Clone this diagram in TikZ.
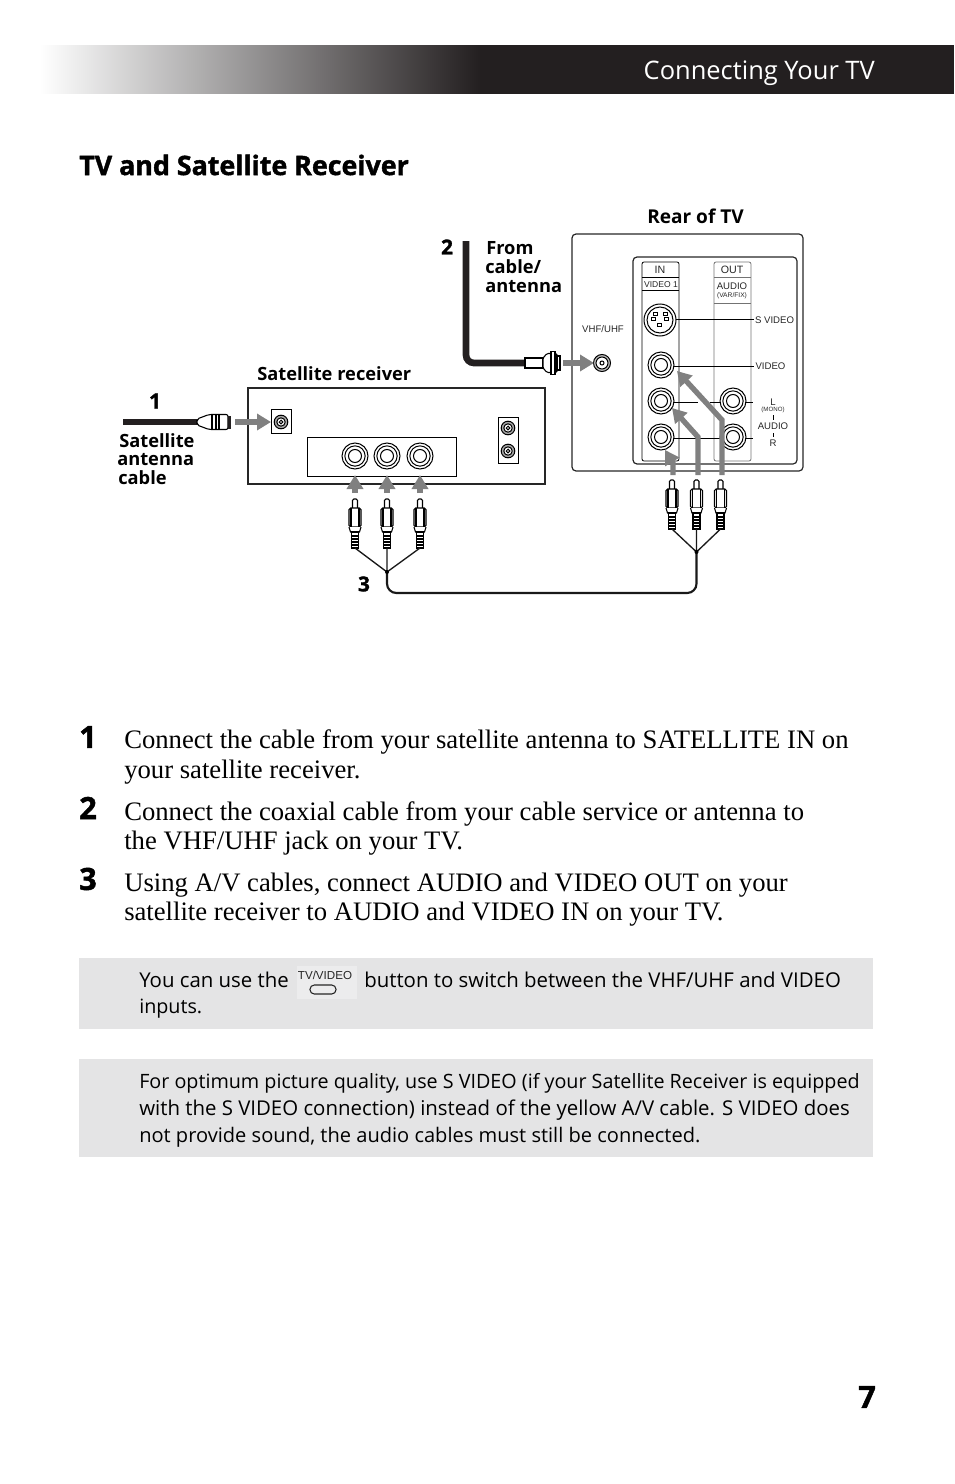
\documentclass[tikz,border=0pt]{standalone}
\usepackage{fontspec}
\setmainfont{Liberation Serif}
\newfontfamily\opensans{Open Sans}
\newfontfamily\heavy[BoldFeatures={FakeBold=1.5}]{Open Sans}
\newfontfamily\arial{Liberation Sans}
\usetikzlibrary{arrows.meta}
\definecolor{hdr}{HTML}{231F20}
\definecolor{arrowgray}{HTML}{808080}
\definecolor{notebg}{HTML}{E4E4E5}
\newcommand\fsz[1]{\fontsize{#1}{#1}\selectfont}
\newcommand\rcajack[4]{%
  \coordinate (#1) at (#2,#3);
  \draw[jackline,fill=white] (#1) circle[radius=#4];
  \draw[jackline] (#1) circle[radius=0.78*#4];
  \draw[jackline] (#1) circle[radius=0.5*#4];
}
\newcommand\rcaplug[2]{%
  \begin{scope}[shift={(#1,#2)}]
    \draw[plugline,fill=white,rounded corners=1pt] (-2.5,10) -- (-2.5,1) -- (2.5,1) -- (2.5,10);
    \draw[plugline,fill=white,rounded corners=1.2pt] (-6,10) rectangle (6,29);
    \draw[plugline,fill=white] (-4,10) -- (-4,29) (4,10) -- (4,29);
    \draw[plugline,fill=white] (-6,29) -- (-4.5,34) -- (4.5,34) -- (6,29);
    \draw[plugline,fill=white] (-3.5,34) rectangle (3.5,50);
    \foreach \yy in {38,41,44,47} \draw[plugline] (-3.5,\yy) -- (3.5,\yy);
  \end{scope}
}
\tikzset{
  jackline/.style={line width=0.75pt,black},
  plugline/.style={line width=0.8pt,black},
  boxline/.style={line width=0.9pt,black!85},
  thinline/.style={line width=0.6pt,black},
  grayarrow/.style={line width=4pt,arrowgray,-{Triangle[length=10.5pt,width=12pt]}},
  coax/.style={line width=5pt,hdr},
  avcable/.style={line width=1.6pt,black!90,rounded corners=7pt},
  wire/.style={line width=1pt,black!90},
  label/.style={inner sep=0pt,anchor=west,font=\opensans\bfseries\fsz{13.7}},
  numlabel/.style={inner sep=0pt,font=\heavy\bfseries\fsz{15.5}},
  tiny/.style={inner sep=0pt,font=\arial\fsz{7.2},text=black!85},
  stepnum/.style={inner sep=0pt,font=\heavy\bfseries\fsz{23}},
  steptext/.style={inner sep=0pt,anchor=west,font=\fsz{20}},
  notetext/.style={inner sep=0pt,anchor=west,font=\opensans\fsz{#1}},
  notetext/.default=15.3,
}
\begin{document}
\begin{tikzpicture}[x=0.75pt,y=-0.75pt]
\useasboundingbox (0,0) rectangle (954,1484);
% header
\fill[left color=white,right color=hdr] (40,45) rectangle (480,94);
\fill[white] (30,40) rectangle (490,45);
\fill[hdr] (480,45) rectangle (954,94);
\node[inner sep=0pt,anchor=east,text=white,font=\opensans\fsz{19.1}] (hdrtitle) at (875,73) {Connecting Your TV};
\node[inner sep=0pt,anchor=west,font=\heavy\bfseries\fsz{20.1}] (title) at (79,165) {TV and Satellite Receiver};
% TV
\draw[boxline,rounded corners=3pt] (572,234) rectangle (803,471);
\draw[boxline,rounded corners=3pt] (633,257) rectangle (797,464);
\draw[thinline,rounded corners=1.5pt] (642,277) -- (642,262) -- (679,262) -- (679,461) -- (642,461) -- cycle;
\draw[thinline,black!55,rounded corners=1.5pt] (714,277) -- (714,262) -- (751,262) -- (751,461) -- (714,461) -- cycle;
\draw[thinline] (642,277) -- (679,277) (642,290) -- (679,290);
\draw[thinline,black!55] (714,277) -- (751,277) (714,303) -- (751,303);
\node[tiny,font=\arial\fsz{8}] (inlab) at (660,270) {IN};
\node[tiny,font=\arial\fsz{8}] (outlab) at (732,270) {OUT};
\node[tiny,font=\arial\fsz{6.4}] (v1lab) at (661,284.5) {VIDEO 1};
\node[tiny,font=\arial\fsz{7.2}] (audiolab) at (732,286) {AUDIO};
\node[tiny,font=\arial\fsz{5}] (varlab) at (732,296) {(VAR/FIX)};
\node[tiny] (vhflab) at (603,329) {VHF/UHF};
\node[tiny] (svlab) at (774.5,320) {S VIDEO};
\node[tiny] (vlab) at (770.5,366) {VIDEO};
\node[tiny] (llab) at (773,402) {L};
\node[tiny,font=\arial\fsz{4.6}] (monolab) at (773,410) {(MONO)};
\node[tiny] (aulab) at (773,426) {AUDIO};
\node[tiny] (rlab) at (773,443) {R};
\draw[thinline] (773,415) -- (773,420) (773,433) -- (773,437);
% guide lines
\draw[thinline] (676,319.5) -- (754,319.5);
\draw[thinline] (674,366) -- (754,366);
\draw[thinline] (674,402) -- (698,402) (710,402) -- (720,402) (746,402) -- (753,402);
\draw[thinline] (674,438) -- (720,438) (746,438) -- (753,438);
% S-Video jack
\coordinate (svjack) at (660,320);
\draw[jackline,fill=white] (svjack) circle[radius=16];
\draw[jackline] (svjack) circle[radius=13];
\foreach \dx/\dy in {-5/-6,5/-6,-7/-1,6/-1,-1/5}
  \draw[line width=0.6pt] (660+\dx-2,320+\dy-1.5) rectangle ++(4,3);
\rcajack{vjack}{661}{365}{13}
\rcajack{ljack}{661}{401}{13}
\rcajack{rjack}{661}{437}{13}
\rcajack{oljack}{733}{401}{13}
\rcajack{orjack}{733}{437}{13}
% VHF jack
\coordinate (vhfjack) at (602,363);
\draw[jackline,fill=black!25] (vhfjack) circle[radius=8.5];
\draw[jackline,fill=white] (vhfjack) circle[radius=6];
\draw[jackline,fill=white] (vhfjack) circle[radius=2];
% Receiver
\draw[boxline] (248,388) rectangle (545,484);
\draw[thinline] (307,437) rectangle (456,476);
\draw[thinline] (271,409) rectangle (291,433);
\draw[thinline] (498,417) rectangle (518,463);
\rcajack{r1}{355}{456}{13}
\rcajack{r2}{387}{456}{13}
\rcajack{r3}{420}{456}{13}
\coordinate (satjack) at (281,422);
\coordinate (rs1) at (508,428);
\coordinate (rs2) at (508,451);
\foreach \c in {satjack,rs1,rs2}{
  \draw[jackline,fill=black!35] (\c) circle[radius=6.8];
  \draw[jackline,fill=white] (\c) circle[radius=4.2];
  \draw[jackline,fill=white] (\c) circle[radius=1.8];
}
% Satellite cable
\coordinate (satstart) at (123,422);
\coordinate (satend) at (198,422);
\draw[coax] (satstart) -- (satend);
\draw[plugline,fill=white,rounded corners=1.5pt] (197,422) -- (197,419) -- (209,414.5) -- (228,414.5) -- (228,429.5) -- (209,429.5) -- (197,425) -- cycle;
\draw[plugline] (212,414.5) -- (212,429.5) (216,414.5) -- (216,429.5) (219,414.5) -- (219,429.5);
\fill[hdr] (228,415.5) rectangle (231,429);
% Coax from antenna
\coordinate (antstart) at (466,241);
\coordinate (antend) at (526,363);
\draw[coax,rounded corners=6pt] (antstart) -- (466,363) -- (antend);
\draw[plugline,fill=white] (525,358) rectangle (543,368);
\draw[plugline,fill=white,rounded corners=1pt] (543,358) -- (547,353.5) -- (557,353.5) -- (557,372.5) -- (547,372.5) -- (543,368) -- cycle;
\draw[plugline,fill=white] (551,351.5) rectangle (555,374.5);
\draw[plugline,fill=white] (557,356) rectangle (560,370);
% Gray arrows
\coordinate (a1s) at (235,422);
\coordinate (a2s) at (563,363);
\draw[grayarrow] (a1s) -- (271,422);
\draw[grayarrow] (a2s) -- (594,363);
\coordinate (tva) at (722,475);
\coordinate (tvb) at (698,475);
\coordinate (tvc) at (673,475);
\draw[grayarrow] (tva) -- (722,420) -- (677,371);
\draw[grayarrow] (tvb) -- (698,437) -- (672,408);
\draw[grayarrow] (tvc) -- (673,463) -- (665,450);
\foreach \xx in {355,387,420}
  \draw[grayarrow] (\xx,493) -- (\xx,475);
% Plugs and A/V cable
\rcaplug{355}{498}\rcaplug{387}{498}\rcaplug{420}{498}
\rcaplug{672}{479}\rcaplug{696.5}{479}\rcaplug{720.5}{479}
\coordinate (jl) at (387,572);
\coordinate (jr) at (696.5,552);
\draw[wire] (355,548) -- (jl) (387,548) -- (jl) (420,548) -- (jl);
\draw[wire] (672,529) -- (jr) (696.5,529) -- (jr) (720.5,529) -- (jr);
\draw[avcable] (jl) -- (387,593) -- (696.5,593) -- (jr);
\fill (jl) circle[radius=2];
\fill (jr) circle[radius=2];
% Diagram labels
\node[label,font=\opensans\bfseries\fsz{14.3}] (rear) at (647,216) {Rear of TV};
\node[numlabel] (num2) at (447,247) {2};
\node[label] (from1) at (486,248) {From};
\node[label] (from2) at (485,267) {cable/};
\node[label] (from3) at (485,287) {antenna};
\node[label] (satrec) at (257,374) {Satellite receiver};
\node[numlabel] (num1) at (155,401) {1};
\node[label] (sat1) at (119,441) {Satellite};
\node[label] (sat2) at (117,460) {antenna};
\node[label] (sat3) at (118,478) {cable};
\node[numlabel] (num3) at (364,584) {3};
% Steps
\node[stepnum] (s1) at (88,737) {1};
\node[stepnum] (s2) at (88,808) {2};
\node[stepnum] (s3) at (88,879) {3};
\node[steptext] (t1a) at (124,742) {Connect the cable from your satellite antenna to SATELLITE IN on};
\node[steptext] (t1b) at (124,772) {your satellite receiver.};
\node[steptext] (t2a) at (124,814) {Connect the coaxial cable from your cable service or antenna to};
\node[steptext] (t2b) at (124,843) {the VHF/UHF jack on your TV.};
\node[steptext] (t3a) at (124,885) {Using A/V cables, connect AUDIO and VIDEO OUT on your};
\node[steptext] (t3b) at (124,914) {satellite receiver to AUDIO and VIDEO IN on your TV.};
% Notes
\fill[notebg] (79,958) rectangle (873,1029);
\fill[notebg] (79,1059) rectangle (873,1157);
\fill[notebg!70!white] (297,966) rectangle (357,999);
\node[notetext] (n1a) at (139,980) {You can use the};
\node[inner sep=0pt,font=\arial\fsz{8.7},text=black!85] (tvvideo) at (325,975) {TV/VIDEO};
\draw[line width=0.8pt,black!85,rounded corners=3.2pt] (310,985) rectangle (336,994);
\node[notetext] (n1b) at (364,980) {button to switch between the VHF/UHF and VIDEO};
\node[notetext=14.8] (n1c) at (139,1009) {inputs.};
\node[notetext=14.8] (n2a) at (139,1083) {For optimum picture quality, use S VIDEO (if your Satellite Receiver is equipped};
\node[notetext=15.3] (n2b) at (139,1110) {with the S VIDEO connection) instead of the yellow A/V cable. S VIDEO does};
\node[notetext=15.05] (n2c) at (139,1137) {not provide sound, the audio cables must still be connected.};
\node[inner sep=0pt,font=\heavy\bfseries\fsz{23}] (page) at (867,1397) {7};
\end{tikzpicture}
\end{document}
